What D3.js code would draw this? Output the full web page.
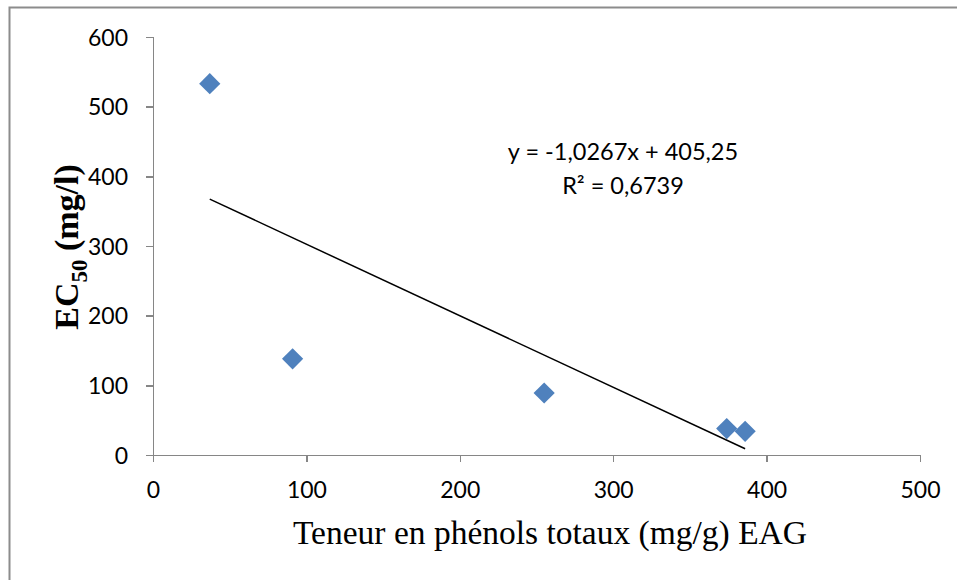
<!DOCTYPE html>
<html>
<head>
<meta charset="utf-8">
<title>EC50 vs phenols</title>
<script src="https://d3js.org/d3.v7.min.js"></script>
<style>
body { margin: 0; background: #fff; }
.tick text { font-family: Lato, sans-serif; font-size: 23px; fill: #000; }
.axis path, .axis line { stroke: #868686; stroke-width: 1.5; shape-rendering: crispEdges; }
</style>
</head>
<body>
<svg id="chart" width="957" height="580"></svg>
<script>
// data
var phenols = [37, 91, 255, 374, 386];
var ec50 = [533, 138, 89, 38, 34];
var xTicks = [0, 100, 200, 300, 400, 500];
var yTicks = [0, 100, 200, 300, 400, 500, 600];
var slope = -1.0267, intercept = 405.25;
var eqLines = ["y = -1,0267x + 405,25", "R² = 0,6739"];

var width = 957, height = 580;
var margin = {top: 37, right: 37, bottom: 125, left: 153};

var svg = d3.select("#chart");

// outer frame (only left and top visible)
svg.append("rect")
	.attr("x", 9.5).attr("y", 7.5)
	.attr("width", 1000).attr("height", 1000)
	.attr("fill", "none")
	.attr("stroke", "#8c8c8c")
	.attr("stroke-width", 2);

var x = d3.scaleLinear().domain([0, 500]).range([margin.left, width - margin.right]);
var y = d3.scaleLinear().domain([0, 600]).range([height - margin.bottom, margin.top]);

var xAxis = d3.axisBottom(x).tickValues(xTicks).tickSize(7).tickSizeOuter(7).tickPadding(20);
var yAxis = d3.axisLeft(y).tickValues(yTicks).tickSize(7).tickSizeOuter(7).tickPadding(18);

svg.append("g")
	.attr("class", "axis")
	.attr("transform", "translate(0," + y(0) + ")")
	.call(xAxis);

svg.append("g")
	.attr("class", "axis")
	.attr("transform", "translate(" + x(0) + ",0)")
	.call(yAxis)
	.selectAll(".tick text").attr("dy", "0.35em");

// trendline across the data range
var xmin = d3.min(phenols), xmax = d3.max(phenols);
svg.append("line")
	.attr("x1", x(xmin)).attr("y1", y(slope * xmin + intercept))
	.attr("x2", x(xmax)).attr("y2", y(slope * xmax + intercept))
	.attr("stroke", "#000")
	.attr("stroke-width", 1.5);

// diamond markers
var diamond = d3.symbol().type(d3.symbolSquare).size(225);
svg.selectAll(".pt")
	.data(phenols)
	.enter()
	.append("path")
	.attr("class", "pt")
	.attr("d", diamond)
	.attr("transform", function(d, i){ return "translate(" + x(d) + "," + y(ec50[i]) + ") rotate(45)"; })
	.attr("fill", "#4F81BD");

// equation
svg.selectAll(".eq")
	.data(eqLines)
	.enter()
	.append("text")
	.attr("class", "eq")
	.attr("x", 623)
	.attr("y", function(d, i){ return 160 + i * 34; })
	.attr("text-anchor", "middle")
	.style("font-family", "Lato, sans-serif")
	.style("font-size", "23.5px")
	.text(function(d){ return d; });

// x title
svg.append("text")
	.attr("x", 550)
	.attr("y", 544)
	.attr("text-anchor", "middle")
	.style("font-family", "'Liberation Serif', serif")
	.style("font-size", "33.5px")
	.text("Teneur en phénols totaux (mg/g) EAG");

// y title
var yt = svg.append("text")
	.attr("transform", "translate(78,247) rotate(-90)")
	.attr("text-anchor", "middle")
	.style("font-family", "'Liberation Serif', serif")
	.style("font-size", "34px")
	.style("font-weight", "bold");
yt.append("tspan").text("EC");
yt.append("tspan").attr("dy", 9).style("font-size", "23px").text("50");
yt.append("tspan").attr("dy", -9).text(" (mg/l)");
</script>
</body>
</html>
